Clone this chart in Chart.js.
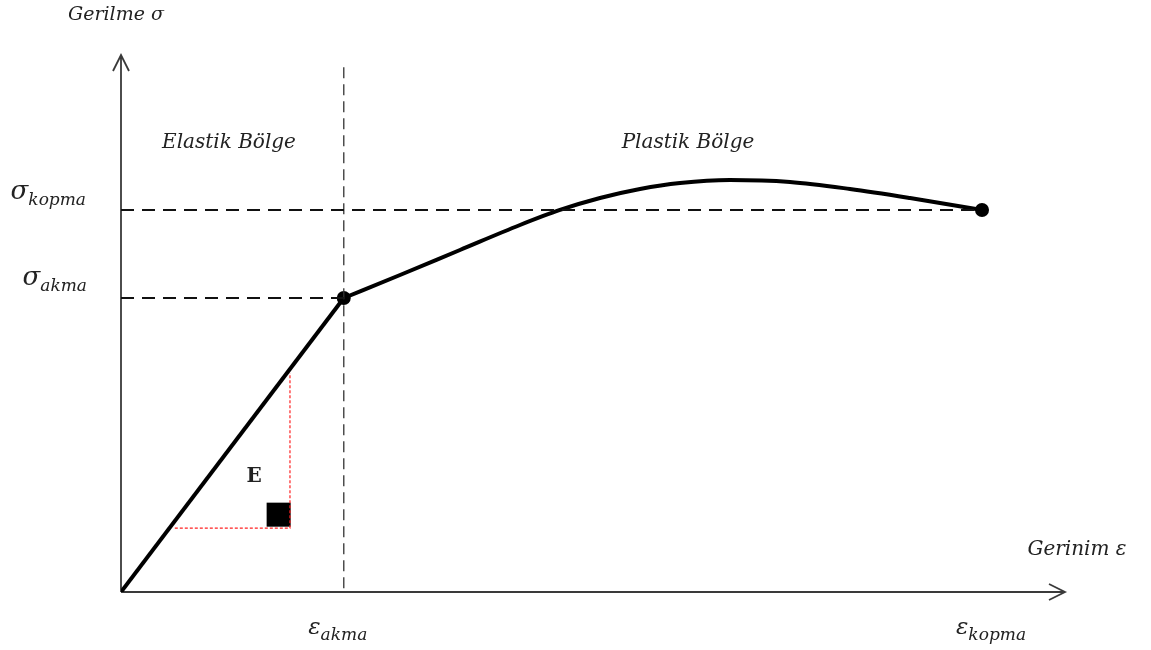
<!DOCTYPE html>
<html>
<head>
<meta charset="utf-8">
<script src="https://cdn.jsdelivr.net/npm/chart.js@4/dist/chart.umd.min.js"></script>
<style>
  html, body { margin: 0; padding: 0; background: #fff; }
  #wrap { width: 1151px; height: 650px; }
</style>
</head>
<body>
<div id="wrap"><canvas id="ssChart" width="1151" height="650"></canvas></div>
<script>
// Stress-strain curve (arbitrary units)
const strainElastic = [0, 23.6];
const stressElastic = [0, 54.75];

const strainPlastic = [23.6, 29.56, 35.91, 42.27, 46.5, 50.74, 54.98, 59.22, 64.51, 70.87, 77.22, 83.58, 91.21];
const stressPlastic = [54.75, 59.03, 63.69, 68.34, 71.14, 73.37, 75.05, 76.16, 76.72, 76.35, 75.05, 73.37, 71.14];

// yield and fracture points
const strainYield = 23.6, stressYield = 54.75;
const strainBreak = 91.21, stressBreak = 71.14;

// slope triangle for E
const triStrain = [5.7, 17.9, 17.9];
const triStress = [11.9, 11.9, 40.8];
const squareStrain = [16.7];
const squareStress = [14.4];

// labels
const yTickLabels = [["σ", "kopma"], ["σ", "akma"]];
const xTickLabels = [["ε", "akma"], ["ε", "kopma"]];
const yTitle = "Gerilme σ";
const xTitle = "Gerinim ε";
const regionLabels = ["Elastik Bölge", "Plastik Bölge"];

const toPts = (xs, ys) => xs.map((x, i) => ({ x: x, y: ys[i] }));

const SERIF = '"DejaVu Serif", "Liberation Serif", serif';

// draws axes with arrows and all the text
const annotations = {
    id: "annotations",
    beforeDatasetsDraw(chart) {
        const { ctx, chartArea: a } = chart;
        ctx.save();
        ctx.strokeStyle = "#3a3a3a";
        ctx.lineWidth = 1.8;
        ctx.beginPath();
        ctx.moveTo(a.left, a.bottom);
        ctx.lineTo(a.left, a.top);
        ctx.moveTo(a.left - 8, a.top + 16);
        ctx.lineTo(a.left, a.top);
        ctx.lineTo(a.left + 8, a.top + 16);
        ctx.moveTo(a.left, a.bottom);
        ctx.lineTo(a.right, a.bottom);
        ctx.moveTo(a.right - 16, a.bottom - 8);
        ctx.lineTo(a.right, a.bottom);
        ctx.lineTo(a.right - 16, a.bottom + 8);
        ctx.stroke();
        ctx.restore();
    },
    afterDatasetsDraw(chart) {
        const { ctx } = chart;
        const xs = chart.scales.x, ys = chart.scales.y;
        ctx.save();
        ctx.fillStyle = "#222";
        ctx.textBaseline = "middle";

        // axis titles
        ctx.font = "italic 19px " + SERIF;
        ctx.textAlign = "center";
        ctx.fillText(yTitle, 116, 15);
        ctx.font = "italic 20px " + SERIF;
        ctx.fillText(xTitle, 1077, 550);

        // region labels
        ctx.font = "italic 20px " + SERIF;
        ctx.fillText(regionLabels[0], 229, 143);
        ctx.fillText(regionLabels[1], 688, 143);

        // E
        ctx.font = "bold 20px " + SERIF;
        ctx.fillText("E", 254, 477);

        // subscripted labels
        ctx.textBaseline = "alphabetic";
        function subLabel(parts, x, base, align, big) {
            ctx.font = "italic " + big + "px " + SERIF;
            const w1 = ctx.measureText(parts[0]).width;
            ctx.font = "italic 17px " + SERIF;
            const w2 = ctx.measureText(parts[1]).width;
            let left = x;
            if (align === "right") left = x - w1 - w2;
            if (align === "center") left = x - (w1 + w2) / 2;
            ctx.textAlign = "left";
            ctx.font = "italic " + big + "px " + SERIF;
            ctx.fillText(parts[0], left, base);
            ctx.font = "italic 17px " + SERIF;
            ctx.fillText(parts[1], left + w1, base + 6);
        }
        subLabel(yTickLabels[0], 86, ys.getPixelForValue(stressBreak) - 11, "right", 26);
        subLabel(yTickLabels[1], 87, ys.getPixelForValue(stressYield) - 13, "right", 26);
        subLabel(xTickLabels[0], xs.getPixelForValue(strainYield) - 6, 634, "center", 23);
        subLabel(xTickLabels[1], xs.getPixelForValue(strainBreak) + 9, 634, "center", 23);
        ctx.restore();
    }
};

new Chart(document.getElementById("ssChart"), {
    type: "scatter",
    data: {
        datasets: [
            {
                data: toPts([0, strainBreak], [stressBreak, stressBreak]),
                showLine: true, borderColor: "#111", borderWidth: 2.2,
                borderDash: [13, 8], pointRadius: 0
            },
            {
                data: toPts([0, strainYield], [stressYield, stressYield]),
                showLine: true, borderColor: "#111", borderWidth: 2.2,
                borderDash: [13, 8], pointRadius: 0
            },
            {
                data: toPts([strainYield, strainYield], [0.7, 98.7]),
                showLine: true, borderColor: "#333", borderWidth: 1.3,
                borderDash: [11, 6], pointRadius: 0
            },
            {
                data: toPts(triStrain, triStress),
                showLine: true, borderColor: "#ff2020", borderWidth: 1.2,
                borderDash: [3, 2], pointRadius: 0
            },
            {
                data: toPts(squareStrain, squareStress),
                pointStyle: "rect", pointRadius: 17, backgroundColor: "#000",
                borderWidth: 0
            },
            {
                data: toPts(strainElastic, stressElastic),
                showLine: true, borderColor: "#000", borderWidth: 4,
                pointRadius: 0, tension: 0
            },
            {
                data: toPts(strainPlastic, stressPlastic),
                showLine: true, borderColor: "#000", borderWidth: 4,
                pointRadius: 0, cubicInterpolationMode: "monotone"
            },
            {
                data: toPts([strainYield, strainBreak], [stressYield, stressBreak]),
                pointRadius: 7, backgroundColor: "#000", borderWidth: 0
            }
        ]
    },
    options: {
        responsive: false,
        animation: false,
        layout: { padding: { left: 121, right: 86, top: 55, bottom: 58 } },
        plugins: { legend: { display: false }, tooltip: { enabled: false } },
        scales: {
            x: { type: "linear", min: 0, max: 100, display: false },
            y: { type: "linear", min: 0, max: 100, display: false }
        }
    },
    plugins: [annotations]
});
</script>
</body>
</html>
